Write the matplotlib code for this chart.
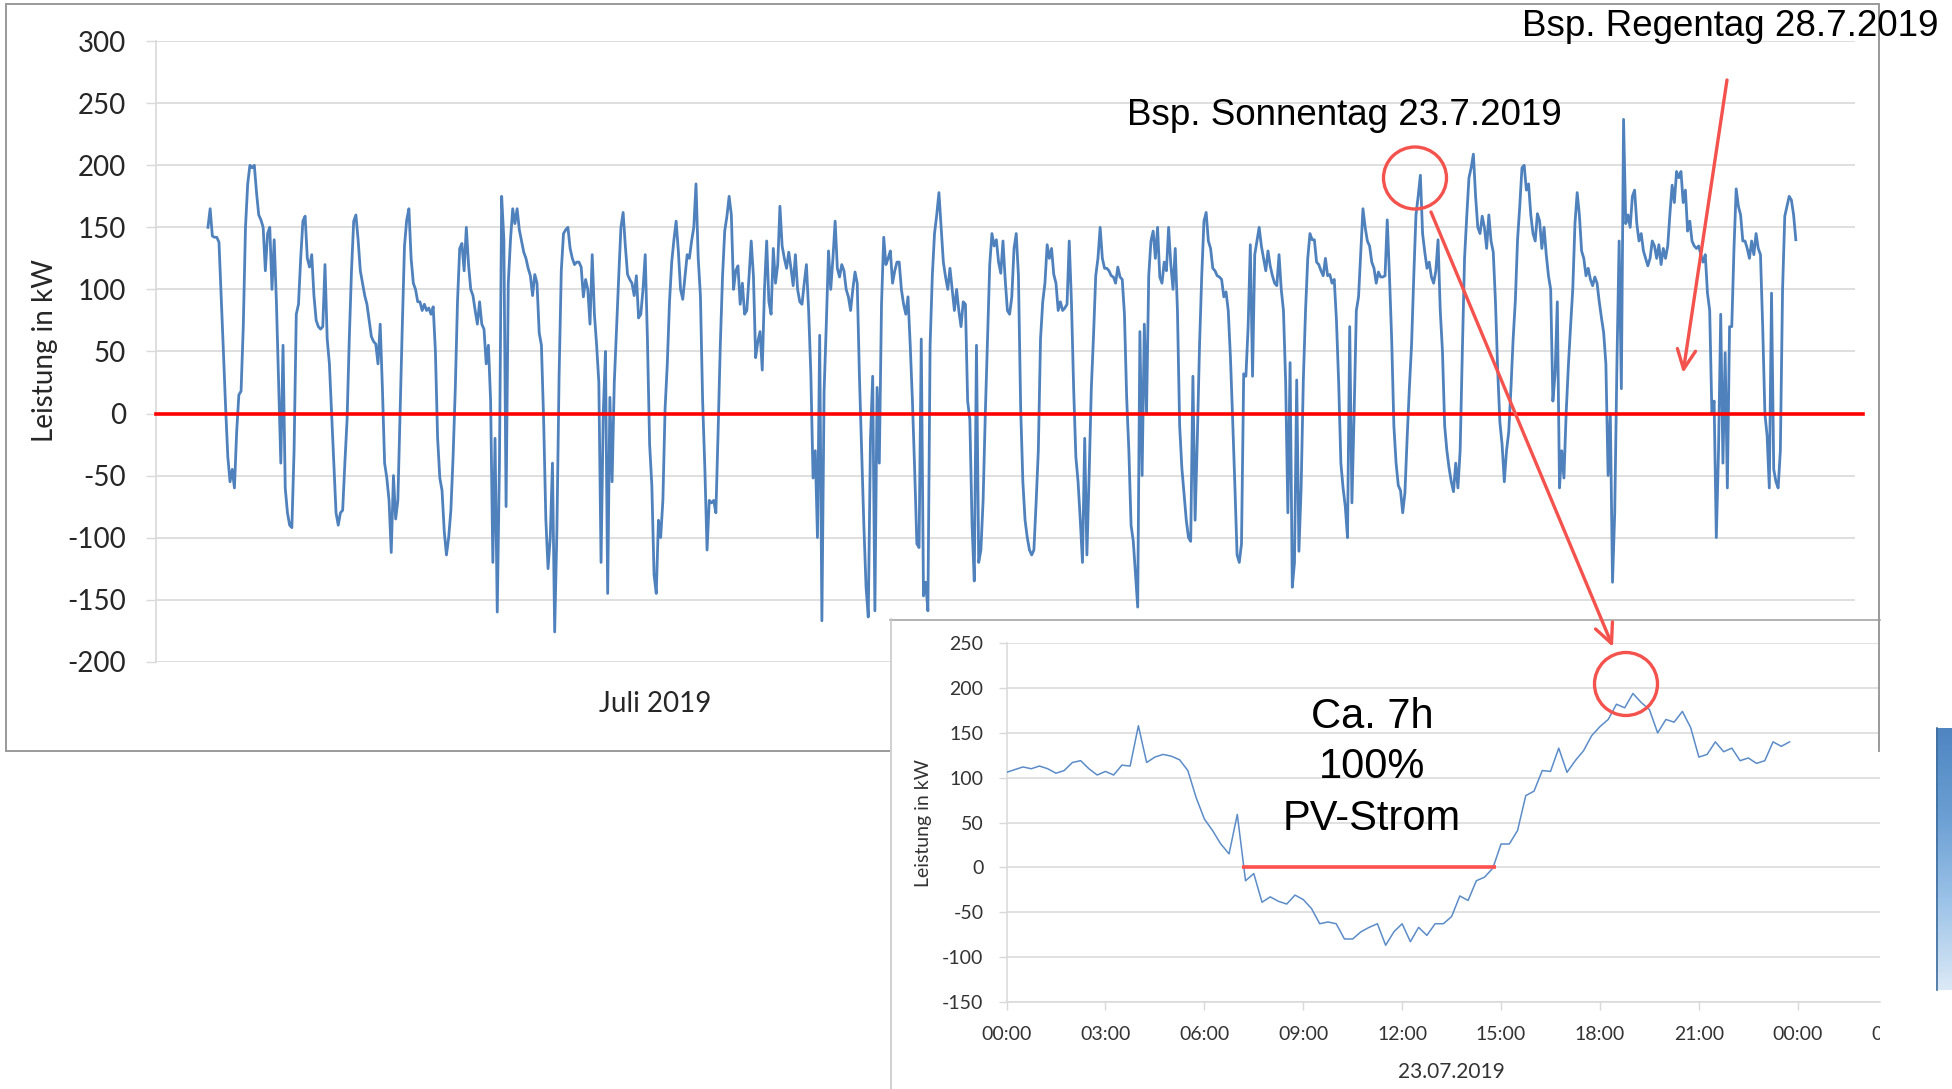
import numpy as np
import matplotlib
matplotlib.use("Agg")
import matplotlib.pyplot as plt
from matplotlib.patches import Rectangle, Ellipse
from matplotlib.transforms import Bbox
from matplotlib.colors import LinearSegmentedColormap

plt.rcParams['font.family'] = ['Lato', 'DejaVu Sans']
plt.rcParams['axes.unicode_minus'] = False

W, H = 1952, 1089

# ---------------- data: hourly power (kW), July 2019, one list per day -------------
d01 = [150,165,143,142,142,138,95,50,5,-35,-55,-45,-60,-15,15,18,70,150,185,200,198,200,178,160]
d02 = [156,150,115,145,150,100,140,90,25,-40,55,-60,-80,-90,-92,-30,80,88,125,155,159,125,118,128]
d03 = [95,75,70,68,70,120,60,40,0,-40,-80,-90,-80,-78,-40,-5,60,115,155,160,140,115,105,95]
d04 = [88,75,62,58,56,40,72,20,-40,-52,-70,-112,-50,-85,-70,0,70,135,156,165,125,105,100,90]
d05 = [90,83,88,83,85,80,86,50,-20,-52,-62,-95,-114,-100,-78,-35,20,90,133,137,115,150,120,100]
d06 = [95,83,72,90,72,68,40,55,10,-120,-20,-160,-40,175,140,-75,105,140,165,153,165,148,139,130]
d07 = [125,117,111,95,112,105,65,55,-5,-85,-125,-100,-40,-176,-95,30,115,145,148,150,133,125,120,122]
d08 = [122,118,94,108,100,72,128,80,55,25,-120,0,50,-145,13,-55,25,68,110,150,162,135,112,108]
d09 = [105,95,111,77,80,100,128,60,-25,-58,-130,-145,-86,-100,-70,4,40,90,122,140,155,131,100,92]
d10 = [110,128,125,139,150,185,125,95,10,-44,-110,-70,-72,-70,-80,-15,55,110,147,159,175,160,100,115]
d11 = [119,88,105,80,83,110,139,111,45,58,66,35,100,139,90,80,133,105,120,167,135,125,117,130]
d12 = [117,103,128,100,90,88,105,120,83,32,-52,-30,-100,63,-167,18,72,131,100,125,155,117,110,120]
d13 = [115,100,94,83,100,114,105,30,-30,-90,-140,-164,-20,30,-159,21,-40,88,142,120,125,131,105,115]
d14 = [122,122,100,88,80,94,55,10,-45,-105,-108,60,-147,-136,-159,55,111,145,160,178,150,122,110,100]
d15 = [117,100,83,100,83,70,90,88,10,-5,-90,-135,55,-120,-110,-70,0,60,120,145,135,140,122,113]
d16 = [139,108,83,80,94,133,145,111,5,-55,-86,-100,-110,-114,-110,-72,-30,60,90,105,136,125,133,112]
d17 = [105,83,90,83,85,88,139,90,20,-35,-55,-86,-120,-20,-114,-50,20,63,111,125,150,125,117,117]
d18 = [115,111,110,105,118,110,108,80,13,-30,-90,-103,-130,-156,66,-50,72,0,111,139,147,125,150,110]
d19 = [105,122,115,150,120,100,133,83,-10,-44,-65,-86,-100,-103,30,-86,-20,55,111,155,162,139,133,117]
d20 = [115,111,110,108,94,98,83,45,-5,-58,-114,-120,-105,32,30,70,136,30,128,139,150,135,125,115]
d21 = [131,119,111,105,103,128,100,83,25,-80,41,-140,-120,27,-111,-60,27,83,125,145,140,140,122,120]
d22 = [115,111,125,111,112,105,108,75,25,-40,-60,-75,-100,70,-72,0,83,94,130,165,150,139,135,122]
d23 = [117,105,114,110,110,111,156,111,60,-10,-40,-58,-62,-80,-64,-20,20,55,110,160,175,192,145,130]
d24 = [117,122,110,105,115,140,83,50,-10,-30,-44,-55,-63,-40,-60,-30,50,125,159,190,198,209,175,150]
d25 = [145,159,150,133,160,139,130,90,35,-7,-25,-55,-30,-15,20,60,91,140,167,198,200,180,185,160]
d26 = [145,139,161,155,133,150,128,111,100,10,32,90,-60,-30,-52,0,38,70,100,153,178,160,131,125]
d27 = [111,117,108,103,110,105,90,77,65,40,-50,0,-136,-80,40,139,20,237,153,160,150,175,180,153]
d28 = [139,145,131,125,119,125,139,135,125,136,120,133,125,135,161,184,170,195,190,195,170,180,147,155]
d29 = [139,135,133,135,128,122,128,97,83,0,10,-100,-30,80,-40,49,-60,70,70,133,181,167,160,139]
d30 = [139,133,125,139,128,145,133,128,70,0,-18,-60,97,-45,-55,-60,-30,100,159,167,175,172,160,140]

tage_juli = [d01, d02, d03, d04, d05, d06, d07, d08, d09, d10, d11, d12, d13, d14, d15,
             d16, d17, d18, d19, d20, d21, d22, d23, d24, d25, d26, d27, d28, d29, d30]

# 15-minute values of 23.07.2019 (inset)
tag_23_07 = [106,109,112,110,113,110,105,108,117,119,110,103,107,103,114,113,
             158,117,123,126,124,120,108,78,54,41,26,15,59,-15,-7,-39,
             -33,-38,-41,-31,-36,-46,-63,-61,-63,-80,-80,-72,-67,-63,-87,-72,
             -63,-83,-67,-76,-63,-63,-55,-32,-37,-15,-11,-1,26,26,41,80,
             85,108,107,133,106,119,130,147,157,165,182,178,194,184,176,150,
             165,162,174,156,123,126,140,129,133,119,122,116,119,140,135,140]

main_yticks = [-200, -150, -100, -50, 0, 50, 100, 150, 200, 250, 300]
inset_yticks = [-150, -100, -50, 0, 50, 100, 150, 200, 250]
inset_xticks = [0, 3, 6, 9, 12, 15, 18, 21, 24]
inset_xlabels = ['00:00', '03:00', '06:00', '09:00', '12:00', '15:00', '18:00', '21:00', '00:00']
pv_start, pv_end = 7.15, 14.86   # "100% PV-Strom" period (h)

werte = np.concatenate([np.array(t, dtype=float) for t in tage_juli])
stunden = np.arange(len(werte))
inset_t = np.arange(len(tag_23_07)) * 0.25

# ---------------- helpers ----------------
def fx(px):
    return px / W

def fy(py):
    return 1 - py / H

GRID = '#d9d9d9'
BLUE = '#4f81bd'
ANN_RED = '#f4524d'
TXT = '#262626'

fig = plt.figure(figsize=(W / 100, H / 100), dpi=100)
fig.patch.set_facecolor('white')

# background frame of main chart
ax_bg = fig.add_axes([0, 0, 1, 1], zorder=0)
ax_bg.set_xlim(0, W); ax_bg.set_ylim(H, 0); ax_bg.axis('off')
ax_bg.add_patch(Rectangle((6, 4), 1873, 747, fill=False, edgecolor='#9a9a9a', lw=1.4))

# ---------------- main chart ----------------
L, R, T, B = 155.6, 1855, 41.2, 661.7
ax = fig.add_axes([fx(L), fy(B), fx(R) - fx(L), fy(T) - fy(B)], zorder=1)
ax.patch.set_alpha(0)
ax.plot(stunden, werte, color=BLUE, lw=2.0, zorder=3)
ax.set_xlim(-23.7, 745.8)
ax.set_ylim(-200, 300)
ax.set_yticks(main_yticks)
ax.set_xticks([])
ax.grid(axis='y', color=GRID, lw=1.2)
ax.set_axisbelow(True)
for s in ['top', 'right', 'bottom']:
    ax.spines[s].set_visible(False)
ax.spines['left'].set_color(GRID)
ax.spines['left'].set_linewidth(1.2)
ax.tick_params(axis='y', length=7.2, width=1.0, color=GRID, pad=14,
               labelsize=20, labelcolor=TXT)
ax.axhline(0, xmin=0, xmax=1.005, color='#ff0000', lw=2.6, clip_on=False, zorder=5)

fig.text(fx(44.6), fy(350), 'Leistung in kW', rotation=90, ha='center', va='center',
         fontsize=20, color=TXT)
fig.text(fx(655), fy(704), 'Juli 2019', ha='center', va='center', fontsize=20, color=TXT)

# ---------------- inset box ----------------
ax_box = fig.add_axes([0, 0, 1, 1], zorder=2)
ax_box.set_xlim(0, W); ax_box.set_ylim(H, 0); ax_box.axis('off')
ax_box.add_patch(Rectangle((890, 619), 990, 470, facecolor='white', edgecolor='none'))
ax_box.plot([890, 1880], [619.5, 619.5], color='#a6a6a6', lw=1.2)
ax_box.plot([890.5, 890.5], [619, 1089], color='#c8c8c8', lw=1.2)

iL, iR, iT, iB = 1006.5, 1880, 643.3, 1001.7
ax_in = fig.add_axes([fx(iL), fy(iB), fx(iR) - fx(iL), fy(iT) - fy(iB)], zorder=3)
ax_in.patch.set_alpha(0)
ax_in.plot(inset_t, tag_23_07, color='#5b8cc8', lw=1.1, zorder=3)
ax_in.plot([pv_start, pv_end], [0, 0], color='#ff4f4f', lw=2.6, zorder=4,
           solid_capstyle='butt')
ax_in.set_xlim(0, (iR - iL) / 32.97)
ax_in.set_ylim(-150, 250)
ax_in.set_yticks(inset_yticks)
ax_in.set_xticks(inset_xticks)
ax_in.set_xticklabels(inset_xlabels)
ax_in.grid(axis='y', color=GRID, lw=1.1)
ax_in.set_axisbelow(True)
for s in ['top', 'right']:
    ax_in.spines[s].set_visible(False)
for s in ['left', 'bottom']:
    ax_in.spines[s].set_color(GRID)
    ax_in.spines[s].set_linewidth(1.1)
ax_in.tick_params(axis='y', length=5.8, width=1.0, color=GRID, pad=10.8,
                  labelsize=14, labelcolor='#333333')
ax_in.tick_params(axis='x', length=5.5, width=1.0, color=GRID, pad=12,
                  labelsize=14, labelcolor='#333333')
clip = Bbox([[0, 0], [1880, H]])
t03 = ax_in.text(27, (iB - 1026) / (iB - iT), '03:00', transform=ax_in.get_xaxis_transform(),
                 ha='center', va='top', fontsize=14, color='#333333', clip_on=True)
t03.set_clip_box(clip)
fig.text(fx(924), fy(823), 'Leistung in kW', rotation=90, ha='center', va='center',
         fontsize=14, color='#333333')
fig.text(fx(1451), fy(1072), '23.07.2019', ha='center', va='center', fontsize=15,
         color='#333333')

# ---------------- overlay annotations ----------------
ax_ov = fig.add_axes([0, 0, 1, 1], zorder=10)
ax_ov.set_xlim(0, W); ax_ov.set_ylim(H, 0); ax_ov.axis('off')
ax_ov.patch.set_alpha(0)
ax_ov.plot([1879, 1879], [619, 751], color='#9a9a9a', lw=1.4)

grad = LinearSegmentedColormap.from_list('strip', ['#4f86c2', '#6b9fd3', '#9cc3e8', '#dbe9f6'])
ax_ov.imshow(np.linspace(0, 1, 100).reshape(-1, 1), cmap=grad, aspect='auto',
             extent=[1936, 1952, 990, 728], zorder=1)
ax_ov.plot([1936.5, 1936.5], [728, 990], color='#3f6d9e', lw=1.2)
ax_ov.set_xlim(0, W); ax_ov.set_ylim(H, 0)

af = ['Liberation Sans', 'DejaVu Sans']
ax_ov.text(1127, 125, 'Bsp. Sonnentag 23.7.2019', fontsize=26.5, family=af,
           ha='left', va='baseline', color='black')
ax_ov.text(1522, 36, 'Bsp. Regentag 28.7.2019', fontsize=26.5, family=af,
           ha='left', va='baseline', color='black')
for txt, yb in [('Ca. 7h', 728), ('100%', 778), ('PV-Strom', 830)]:
    ax_ov.text(1372, yb, txt, fontsize=30, family=af, ha='center', va='baseline',
               color='black')

ax_ov.add_patch(Ellipse((1415, 178), 63, 62, fill=False, edgecolor=ANN_RED, lw=2.4))
ax_ov.add_patch(Ellipse((1626, 684), 63, 63, fill=False, edgecolor=ANN_RED, lw=2.4))
arrow_kw = dict(arrowstyle='->,head_length=0.7,head_width=0.33', mutation_scale=20,
                color=ANN_RED, lw=2.4, shrinkA=0, shrinkB=0)
ax_ov.annotate('', xy=(1613, 647), xytext=(1431, 212), arrowprops=arrow_kw)
ax_ov.annotate('', xy=(1683, 373), xytext=(1727, 80), arrowprops=arrow_kw)

fig.savefig('out.png', dpi=100, facecolor='white')
